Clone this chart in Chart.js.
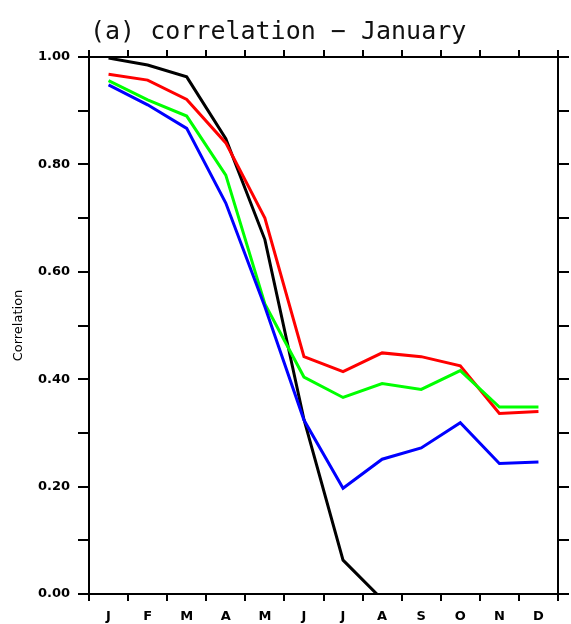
<!DOCTYPE html>
<html>
<head>
<meta charset="utf-8">
<script src="https://cdn.jsdelivr.net/npm/chart.js@4"></script>
<style>
  body { margin: 0; background: #fff; }
</style>
</head>
<body>
<canvas id="corrGraph" width="571" height="624"></canvas>
<script>
// months of the year, starting in January
const months = ["J", "F", "M", "A", "M", "J", "J", "A", "S", "O", "N", "D"];

// correlation with January, one series per curve
const blackValues = [0.998, 0.985, 0.963, 0.848, 0.66, 0.325, 0.063, -0.01, null, null, null, null];
const redValues = [0.968, 0.957, 0.921, 0.84, 0.70, 0.442, 0.414, 0.449, 0.442, 0.425, 0.336, 0.340];
const greenValues = [0.956, 0.920, 0.890, 0.780, 0.54, 0.404, 0.366, 0.392, 0.381, 0.416, 0.348, 0.348];
const blueValues = [0.948, 0.911, 0.867, 0.728, 0.535, 0.324, 0.197, 0.251, 0.272, 0.319, 0.243, 0.246];

const titleText = "(a) correlation \u2212 January";
const axisTitle = "Correlation";

const tickFont = { family: "DejaVu Sans", size: 13, weight: "bold" };

function lineSet(values, color) {
  return {
    data: values,
    borderColor: color,
    backgroundColor: color,
    borderWidth: 3,
    pointRadius: 0,
    tension: 0,
    fill: false,
  };
}

// setup block
const data = {
  labels: months,
  datasets: [
    lineSet(blueValues, "#0000ff"),
    lineSet(greenValues, "#00ff00"),
    lineSet(redValues, "#ff0000"),
    lineSet(blackValues, "#000000"),
  ],
};

// plot title sits left of centre, above the top axis
const titlePlugin = {
  id: "plotTitle",
  afterDraw(chart) {
    const ctx = chart.ctx;
    ctx.save();
    ctx.font = "25px 'DejaVu Sans Mono'";
    ctx.fillStyle = "#111";
    ctx.textBaseline = "alphabetic";
    ctx.textAlign = "left";
    ctx.fillText(titleText, 90, 39);
    ctx.restore();
  },
};

const axisLine = { display: true, color: "#000", width: 2 };
const outerTicks = { drawOnChartArea: false, color: "#000", lineWidth: 2, tickLength: 8 };

// config block
const config = {
  type: "line",
  data,
  plugins: [titlePlugin],
  options: {
    responsive: false,
    devicePixelRatio: 1,
    animation: false,
    layout: { padding: 0 },
    plugins: {
      legend: { display: false },
      tooltip: { enabled: false },
    },
    scales: {
      x: {
        type: "category",
        position: "bottom",
        offset: true,
        border: axisLine,
        grid: { ...outerTicks, offset: true, tickLength: 7 },
        ticks: { color: "#000", font: tickFont, padding: 8, maxRotation: 0, autoSkip: false },
        afterFit: (scale) => { scale.height = 30; },
      },
      x2: {
        type: "category",
        position: "top",
        offset: true,
        border: axisLine,
        grid: { ...outerTicks, offset: true, tickLength: 7 },
        ticks: { display: false },
        afterFit: (scale) => { scale.height = 57; },
      },
      y: {
        position: "left",
        min: 0,
        max: 1,
        border: axisLine,
        grid: { ...outerTicks, tickLength: 11 },
        ticks: {
          stepSize: 0.1,
          color: "#000",
          font: tickFont,
          padding: 8,
          callback: (value) => (Math.round(value * 10) % 2 === 0 ? value.toFixed(2) : ""),
        },
        title: {
          display: true,
          text: axisTitle,
          color: "#000",
          font: { family: "DejaVu Sans", size: 13 },
          padding: { top: 11, bottom: 0 },
        },
        afterFit: (scale) => { scale.width = 89; },
      },
      y2: {
        position: "right",
        min: 0,
        max: 1,
        border: axisLine,
        grid: { ...outerTicks, tickLength: 11 },
        ticks: { stepSize: 0.1, display: false },
        afterFit: (scale) => { scale.width = 13; },
      },
    },
  },
};

// render / init block
const corrChart = new Chart(document.getElementById("corrGraph"), config);
</script>
</body>
</html>
